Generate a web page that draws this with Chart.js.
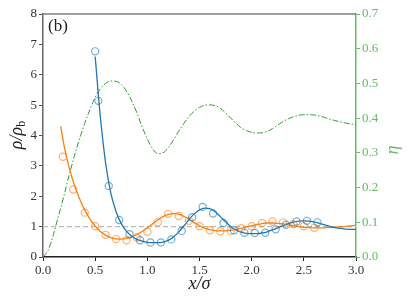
<!DOCTYPE html>
<html><head><meta charset="utf-8">
<script src="https://cdn.jsdelivr.net/npm/chart.js@4.4.0/dist/chart.umd.min.js"></script>
<style>html,body{margin:0;padding:0;background:#fff}canvas{display:block}</style>
</head><body>
<canvas id="c" width="407" height="305"></canvas>
<script>
// ---- data ----
const blueMarkX = [0.50,0.53,0.63,0.73,0.83,0.93,1.03,1.13,1.23,1.33,1.43,1.53,1.63,1.73,1.83,1.93,2.03,2.13,2.23,2.33,2.43,2.53,2.63];
const blueMarkY = [6.77,5.14,2.34,1.22,0.75,0.55,0.48,0.48,0.58,0.86,1.31,1.65,1.43,1.12,0.88,0.80,0.79,0.80,0.91,1.06,1.17,1.19,1.14];
const orangeMarkX = [0.19,0.29,0.40,0.50,0.60,0.70,0.80,0.90,1.00,1.10,1.20,1.30,1.40,1.50,1.60,1.70,1.80,1.90,2.00,2.10,2.20,2.30,2.40,2.50,2.60];
const orangeMarkY = [3.30,2.22,1.46,1.01,0.73,0.59,0.55,0.64,0.83,1.14,1.42,1.35,1.19,1.01,0.88,0.85,0.86,0.95,1.01,1.12,1.17,1.14,1.08,1.01,0.96];
const blueLineX = [0.50,0.55,0.60,0.65,0.70,0.75,0.80,0.85,0.90,0.95,1.00,1.05,1.10,1.15,1.20,1.25,1.30,1.35,1.40,1.45,1.50,1.55,1.60,1.65,1.70,1.75,1.80,1.85,1.90,1.95,2.00,2.05,2.10,2.15,2.20,2.25,2.30,2.35,2.40,2.45,2.50,2.55,2.60,2.65,2.70,2.75,2.80,2.85,2.90,2.95,3.00];
const blueLineY = [6.60,4.60,3.10,2.10,1.50,1.10,0.85,0.68,0.58,0.52,0.48,0.47,0.47,0.49,0.55,0.66,0.82,1.02,1.24,1.42,1.55,1.61,1.59,1.49,1.33,1.16,1.00,0.89,0.82,0.78,0.77,0.77,0.79,0.83,0.89,0.96,1.03,1.10,1.15,1.18,1.19,1.18,1.15,1.11,1.06,1.01,0.97,0.94,0.92,0.91,0.91];
const orangeLineX = [0.17,0.20,0.25,0.30,0.35,0.40,0.45,0.50,0.55,0.60,0.65,0.70,0.75,0.80,0.85,0.90,0.95,1.00,1.05,1.10,1.15,1.20,1.25,1.30,1.35,1.40,1.45,1.50,1.55,1.60,1.65,1.70,1.75,1.80,1.85,1.90,1.95,2.00,2.05,2.10,2.15,2.20,2.25,2.30,2.35,2.40,2.45,2.50,2.55,2.60,2.70,2.80,2.90,3.00];
const orangeLineY = [4.30,3.70,2.95,2.38,1.92,1.55,1.25,1.02,0.84,0.72,0.64,0.60,0.59,0.61,0.66,0.74,0.84,0.96,1.09,1.22,1.33,1.40,1.43,1.41,1.34,1.24,1.13,1.03,0.95,0.90,0.87,0.86,0.86,0.88,0.91,0.95,0.99,1.03,1.07,1.10,1.12,1.12,1.11,1.09,1.06,1.03,1.00,0.98,0.97,0.96,0.96,0.98,1.01,1.04];
const etaX = [0.00,0.05,0.10,0.15,0.20,0.25,0.30,0.35,0.40,0.45,0.50,0.55,0.60,0.65,0.70,0.75,0.80,0.85,0.90,0.95,1.00,1.05,1.10,1.15,1.20,1.25,1.30,1.35,1.40,1.45,1.50,1.55,1.60,1.65,1.70,1.75,1.80,1.85,1.90,1.95,2.00,2.05,2.10,2.15,2.20,2.25,2.30,2.35,2.40,2.45,2.50,2.55,2.60,2.65,2.70,2.75,2.80,2.85,2.90,2.95,3.00];
const etaY = [0.000,0.020,0.065,0.120,0.175,0.235,0.290,0.340,0.385,0.425,0.460,0.485,0.500,0.507,0.506,0.497,0.478,0.450,0.415,0.375,0.340,0.312,0.298,0.300,0.315,0.337,0.362,0.385,0.405,0.420,0.431,0.437,0.438,0.436,0.428,0.415,0.400,0.385,0.372,0.364,0.359,0.357,0.358,0.362,0.370,0.380,0.390,0.398,0.404,0.408,0.410,0.410,0.409,0.406,0.402,0.397,0.393,0.389,0.386,0.383,0.381];
const refX = [0, 3];
const refY = [1, 1];
const xTicks = [0, 0.5, 1.0, 1.5, 2.0, 2.5, 3.0];
const yTicks = [0,1,2,3,4,5,6,7,8];
const etaTicks = [0,0.1,0.2,0.3,0.4,0.5,0.6,0.7];

const pts = (xs, ys) => xs.map((x, i) => ({x, y: ys[i]}));
const FONT = '"Liberation Serif", "DejaVu Serif", serif';
const GREEN_AX = '#66bb66';

const overlay = {
  id: 'overlay',
  afterDraw(chart) {
    const {ctx, chartArea: a} = chart;
    ctx.save();
    // top spine
    ctx.strokeStyle = '#808080'; ctx.lineWidth = 1.5;
    ctx.beginPath(); ctx.moveTo(a.left, a.top); ctx.lineTo(a.right, a.top); ctx.stroke();
    ctx.fillStyle = '#222';
    ctx.font = '17px ' + FONT;
    ctx.textBaseline = 'middle'; ctx.textAlign = 'left';
    ctx.fillText('(b)', a.left + 5, a.top + 13);
    // x title
    ctx.font = 'italic 18px ' + FONT;
    ctx.textAlign = 'center';
    ctx.fillText('x/σ', (a.left + a.right) / 2, 284);
    // left title
    ctx.save();
    ctx.translate(17, 135); ctx.rotate(-Math.PI / 2);
    ctx.font = 'italic 18px ' + FONT;
    ctx.textAlign = 'center';
    const t1 = 'ρ/ρ';
    const w1 = ctx.measureText(t1).width;
    ctx.font = '12px ' + FONT;
    const w2 = ctx.measureText('b').width;
    ctx.font = 'italic 18px ' + FONT;
    ctx.textAlign = 'left';
    ctx.fillText(t1, -(w1 + w2) / 2, 0);
    ctx.font = '12px ' + FONT;
    ctx.fillText('b', -(w1 + w2) / 2 + w1, 5);
    ctx.restore();
    // right title
    ctx.save();
    ctx.translate(393, 150); ctx.rotate(-Math.PI / 2);
    ctx.fillStyle = GREEN_AX;
    ctx.font = 'italic 18px ' + FONT;
    ctx.textAlign = 'center';
    ctx.fillText('η', 0, 0);
    ctx.restore();
    ctx.restore();
  }
};

new Chart(document.getElementById('c'), {
  type: 'scatter',
  data: {
    datasets: [
      {data: pts(blueMarkX, blueMarkY), showLine: false, pointRadius: 3.6, pointBorderWidth: 1.2,
       pointBackgroundColor: 'rgba(0,0,0,0)', pointBorderColor: 'rgba(31,119,180,0.6)', yAxisID: 'y', order: 1},
      {data: pts(orangeMarkX, orangeMarkY), showLine: false, pointRadius: 3.6, pointBorderWidth: 1.2,
       pointBackgroundColor: 'rgba(0,0,0,0)', pointBorderColor: 'rgba(255,127,14,0.6)', yAxisID: 'y', order: 2},
      {data: pts(blueLineX, blueLineY), showLine: true, pointRadius: 0, borderColor: '#1f77b4', borderWidth: 1.3,
       cubicInterpolationMode: 'monotone', yAxisID: 'y', order: 3},
      {data: pts(orangeLineX, orangeLineY), showLine: true, pointRadius: 0, borderColor: '#ff7f0e', borderWidth: 1.3,
       cubicInterpolationMode: 'monotone', yAxisID: 'y', order: 4},
      {data: pts(refX, refY), showLine: true, pointRadius: 0, borderColor: '#bbbbbb', borderWidth: 1.2,
       borderDash: [5, 3], yAxisID: 'y', order: 5},
      {data: pts(etaX, etaY), showLine: true, pointRadius: 0, borderColor: '#2ca02c', borderWidth: 1,
       borderDash: [6, 2, 1.5, 2], cubicInterpolationMode: 'monotone', yAxisID: 'y1', order: 6}
    ]
  },
  options: {
    responsive: false, animation: false, devicePixelRatio: 1,
    layout: {padding: {top: 14, left: 0, right: 0, bottom: 0}},
    plugins: {legend: {display: false}, tooltip: {enabled: false}},
    scales: {
      x: {
        type: 'linear', min: 0, max: 3,
        afterBuildTicks: s => { s.ticks = xTicks.map(v => ({value: v})); },
        afterFit: s => { s.height = 48; },
        ticks: {callback: v => Number(v).toFixed(1), color: '#333', font: {family: FONT, size: 13}, padding: 2, maxRotation: 0},
        grid: {display: true, drawOnChartArea: false, drawTicks: true, tickLength: 4, color: '#222'},
        border: {display: true, color: '#222', width: 1.5}
      },
      y: {
        type: 'linear', position: 'left', min: 0, max: 8,
        afterBuildTicks: s => { s.ticks = yTicks.map(v => ({value: v})); },
        afterFit: s => { s.width = 43; },
        ticks: {color: '#333', font: {family: FONT, size: 13}, padding: 2},
        grid: {display: true, drawOnChartArea: false, drawTicks: true, tickLength: 4, color: '#555'},
        border: {display: true, color: '#666', width: 1.5}
      },
      y1: {
        type: 'linear', position: 'right', min: 0, max: 0.7,
        afterBuildTicks: s => { s.ticks = etaTicks.map(v => ({value: v})); },
        afterFit: s => { s.width = 51; },
        ticks: {callback: v => Number(v).toFixed(1), color: GREEN_AX, font: {family: FONT, size: 13}, padding: 2},
        grid: {display: true, drawOnChartArea: false, drawTicks: true, tickLength: 4, color: GREEN_AX},
        border: {display: true, color: GREEN_AX, width: 1.5}
      }
    }
  },
  plugins: [overlay]
});
</script>
</body></html>
